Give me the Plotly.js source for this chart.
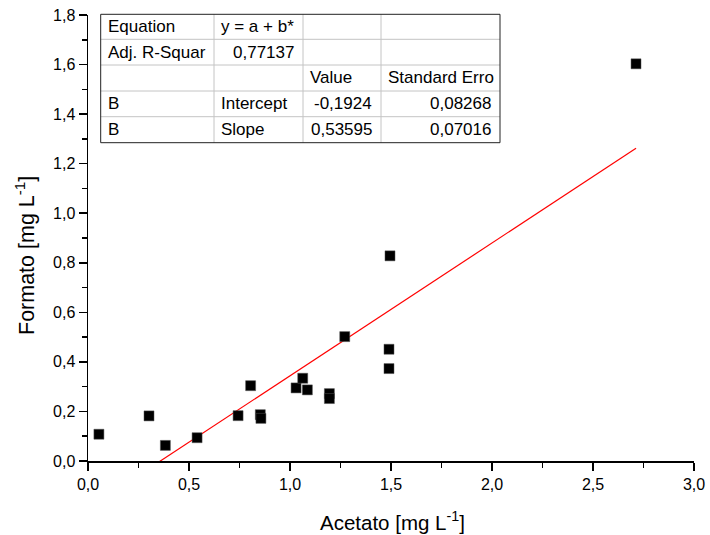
<!DOCTYPE html>
<html><head><meta charset="utf-8">
<script src="https://cdn.plot.ly/plotly-3.0.1.min.js"></script>
<style>html,body{margin:0;padding:0;background:#fff}#chart{width:710px;height:535px}</style>
</head><body><div id="chart"></div>
<script>
// Data
const acetato = [0.054,0.302,0.383,0.540,0.743,0.805,0.853,0.856,1.030,1.063,1.086,1.195,1.195,1.271,1.490,1.490,1.495,2.713];
const formato = [0.108,0.182,0.063,0.094,0.183,0.304,0.187,0.172,0.295,0.334,0.287,0.272,0.252,0.502,0.451,0.373,0.828,1.603];
// Linear fit line endpoints (as drawn)
const fitX = [0.054, 2.713];
const fitY = [-0.163, 1.262];
// Fit results table
const tableRows = [
  ["Equation","y = a + b*","",""],
  ["Adj. R-Squar","0,77137","",""],
  ["","","Value","Standard Erro"],
  ["B","Intercept","-0,1924","0,08268"],
  ["B","Slope","0,53595","0,07016"]
];
const xTitle = "Acetato [mg L<sup>-1</sup>]";
const yTitle = "Formato [mg L<sup>-1</sup>]";

// plot area in pixels
const L = 88, R = 694, T = 15, B = 461;
const px = x => (x - L) / (R - L);
const py = y => (B - y) / (B - T);

const FONT = "Liberation Sans, Arial, sans-serif";

// table geometry (pixels)
const colX = [100.7, 214, 303, 381, 500];
const rowY = [14.3, 39.3, 65, 91, 116.7, 142.7];

const shapes = [];
for (let i = 1; i < rowY.length - 1; i++) {
  shapes.push({type:'line', xref:'paper', yref:'paper', x0:px(colX[0]), x1:px(colX[colX.length-1]), y0:py(rowY[i]), y1:py(rowY[i]), line:{color:'#c4c4c4', width:1}});
}
for (let j = 1; j < colX.length - 1; j++) {
  shapes.push({type:'line', xref:'paper', yref:'paper', x0:px(colX[j]), x1:px(colX[j]), y0:py(rowY[0]), y1:py(rowY[rowY.length-1]), line:{color:'#c4c4c4', width:1}});
}
shapes.push({type:'rect', xref:'paper', yref:'paper', x0:px(colX[0]), x1:px(colX[colX.length-1]), y0:py(rowY[0]), y1:py(rowY[rowY.length-1]), line:{color:'#222', width:1}});

const annotations = [];
tableRows.forEach((row, i) => {
  row.forEach((txt, j) => {
    if (!txt) return;
    const numeric = /^-?[0-9]/.test(txt);
    const yc = (rowY[i] + rowY[i+1]) / 2;
    annotations.push({
      xref:'paper', yref:'paper',
      x: numeric ? px(colX[j+1] - 7) : px(colX[j] + 5),
      xanchor: numeric ? 'right' : 'left',
      y: py(yc), yanchor:'middle',
      text: txt, showarrow:false,
      font:{family:FONT, size:17, color:'#000'}
    });
  });
});
annotations.push({xref:'paper', yref:'paper', x:px(392), y:py(521), xanchor:'center', yanchor:'middle',
  text:xTitle, showarrow:false, font:{family:FONT, size:20.5, color:'#000'}});
annotations.push({xref:'paper', yref:'paper', x:px(25), y:py(256), xanchor:'center', yanchor:'middle', textangle:-90,
  text:yTitle, showarrow:false, font:{family:FONT, size:21.5, color:'#000'}});

const traces = [
  {x: fitX, y: fitY, type:'scatter', mode:'lines', line:{color:'#ff0000', width:1.2}, hoverinfo:'skip'},
  {x: acetato, y: formato, type:'scatter', mode:'markers',
   marker:{symbol:'square', size:10, color:'#000', line:{color:'#555', width:0.5}}, cliponaxis:false}
];

const axisCommon = {
  showline:true, linecolor:'#000', linewidth:1.5, mirror:false,
  showgrid:false, zeroline:false,
  ticks:'outside', ticklen:8, tickwidth:1.5, tickcolor:'#000',
  tickfont:{family:FONT, size:16, color:'#000'},
  tickformat:'.1f', fixedrange:true
};

const layout = {
  width:710, height:535,
  margin:{l:L, r:710-R, t:T, b:535-B, pad:0},
  paper_bgcolor:'#fff', plot_bgcolor:'#fff',
  showlegend:false,
  separators:', ',
  font:{family:FONT, color:'#000'},
  xaxis: Object.assign({}, axisCommon, {range:[0,3], tickmode:'linear', tick0:0, dtick:0.5,
    minor:{ticks:'outside', ticklen:5, tickwidth:1.5, tickcolor:'#000', dtick:0.25, tick0:0, showgrid:false}}),
  yaxis: Object.assign({}, axisCommon, {range:[0,1.8], tickmode:'linear', tick0:0, dtick:0.2,
    minor:{ticks:'outside', ticklen:5, tickwidth:1.5, tickcolor:'#000', dtick:0.1, tick0:0, showgrid:false}}),
  shapes: shapes,
  annotations: annotations
};

Plotly.newPlot('chart', traces, layout, {displayModeBar:false, staticPlot:true});
</script>
</body></html>
